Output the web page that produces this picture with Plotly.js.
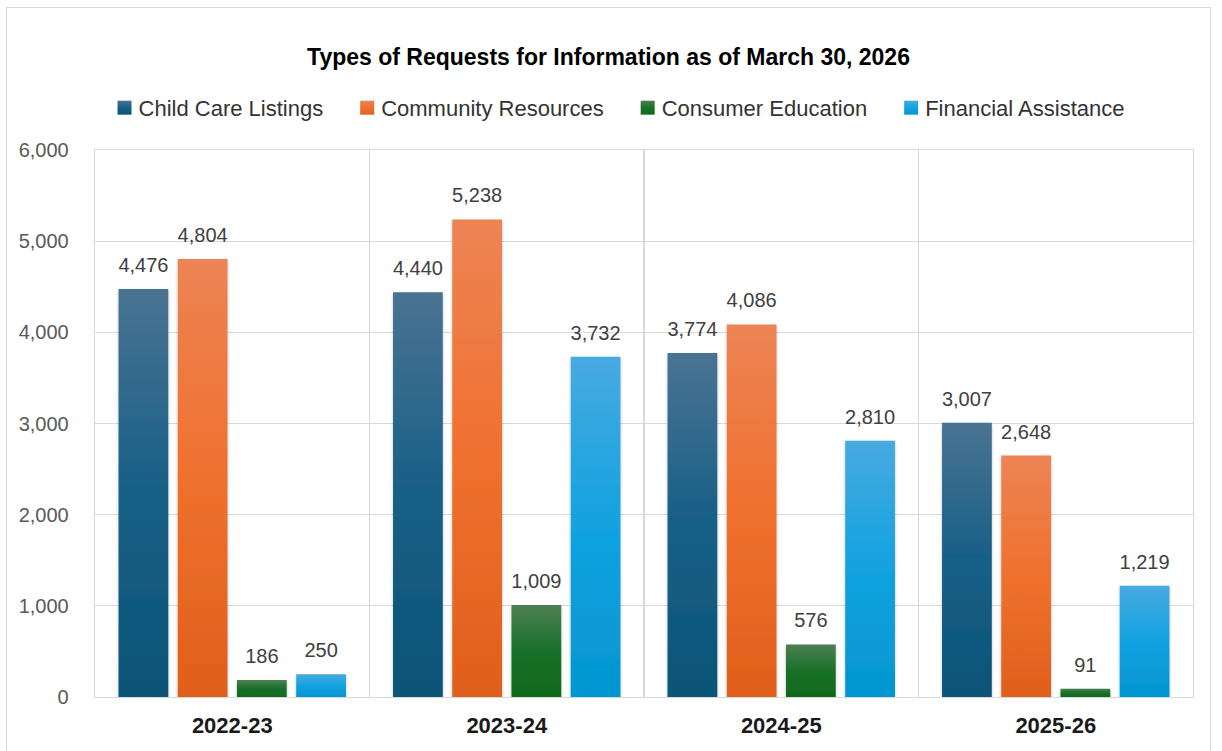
<!DOCTYPE html>
<html>
<head>
<meta charset="utf-8">
<script src="https://cdn.plot.ly/plotly-3.0.1.min.js"></script>
<style>
  html, body { margin: 0; padding: 0; background: #ffffff; overflow: hidden; }
  #frame { position: absolute; left: 6px; top: 7px; width: 1205px; height: 760px;
           border: 1px solid #d9d9d9; box-sizing: border-box; background: #fff; }
  #chart { width: 1203px; height: 758px; }
</style>
</head>
<body>
<div id="frame"><div id="chart"></div></div>
<script>
// ---- data ----
const years = ["2022-23", "2023-24", "2024-25", "2025-26"];
const childCareListings   = [4476, 4440, 3774, 3007];
const communityResources  = [4804, 5238, 4086, 2648];
const consumerEducation   = [186, 1009, 576, 91];
const financialAssistance = [250, 3732, 2810, 1219];
const seriesNames = ["Child Care Listings", "Community Resources", "Consumer Education", "Financial Assistance"];
const chartTitle = "Types of Requests for Information as of March 30, 2026";

// ---- styles ----
const baseColors = ["#14618a", "#ef6f2c", "#1a6f25", "#0aa0dc"];
const gradStops = [
  ["#4a7393", "#175f86", "#0c5477"],
  ["#ed8455", "#f0702e", "#e05f1b"],
  ["#4d8053", "#19702a", "#106a1c"],
  ["#48aae0", "#12a2e0", "#0396d1"]
];
const LABEL_LIFT = 10;
const LEGEND_EXTRA_GAP = 13;
const LEGEND_SHIFT = -33;

const seriesValues = [childCareListings, communityResources, consumerEducation, financialAssistance];
const traces = seriesValues.map((vals, i) => ({
  type: "bar",
  name: seriesNames[i],
  x: years,
  y: vals,
  marker: { color: baseColors[i], line: { width: 0 } },
  texttemplate: "%{y:,}",
  textposition: "outside",
  constraintext: "none",
  cliponaxis: false,
  textfont: { family: "Liberation Sans, Arial, sans-serif", size: 20, color: "#404040" },
  hoverinfo: "x+y+name"
}));

const layout = {
  width: 1203, height: 758,
  margin: { l: 88, r: 17, t: 142, b: 69 },
  paper_bgcolor: "#ffffff",
  plot_bgcolor: "#ffffff",
  title: {
    text: "<b>" + chartTitle + "</b>",
    font: { family: "Liberation Sans, Arial, sans-serif", size: 23, color: "#000000" },
    x: 0.5, xanchor: "center", xref: "container",
    y: 0.935, yanchor: "middle", yref: "container"
  },
  legend: {
    orientation: "h",
    x: 0.485, xanchor: "center",
    y: 1.077, yanchor: "middle",
    font: { family: "Liberation Sans, Arial, sans-serif", size: 22, color: "#333333" },
    itemwidth: 30,
    traceorder: "normal"
  },
  barmode: "group",
  bargap: 0.137,
  bargroupgap: 0.16,
  xaxis: {
    type: "category",
    tickson: "boundaries",
    showgrid: true,
    gridcolor: "#d9d9d9",
    gridwidth: 1.3,
    showline: true,
    linecolor: "#d9d9d9",
    linewidth: 1.3,
    mirror: true,
    ticks: "",
    ticklabelstandoff: 8,
    tickfont: { family: "Liberation Sans, Arial, sans-serif", size: 22, color: "#1a1a1a", weight: "bold" },
    fixedrange: true
  },
  yaxis: {
    range: [0, 6000],
    dtick: 1000,
    tickformat: ",",
    showgrid: true,
    gridcolor: "#d9d9d9",
    gridwidth: 1.3,
    zeroline: false,
    showline: true,
    linecolor: "#d9d9d9",
    linewidth: 1.3,
    mirror: true,
    ticks: "",
    ticklabelstandoff: 21,
    tickfont: { family: "Liberation Sans, Arial, sans-serif", size: 20, color: "#595959" },
    fixedrange: true
  },
  showlegend: true
};

function parseTranslate(tf) {
  const m = /translate\(\s*([-\d.e]+)[ ,]+([-\d.e]+)\s*\)/.exec(tf || "");
  return m ? [parseFloat(m[1]), parseFloat(m[2])] : [0, 0];
}

function applyStyling(gd) {
  const svg = gd.querySelector("svg.main-svg");
  if (!svg) return;
  const NS = "http://www.w3.org/2000/svg";
  let defs = document.getElementById("custom-grad-defs");
  if (!defs) {
    defs = document.createElementNS(NS, "defs");
    defs.setAttribute("id", "custom-grad-defs");
    gradStops.forEach((stops, i) => {
      const lg = document.createElementNS(NS, "linearGradient");
      lg.setAttribute("id", "bargrad" + i);
      lg.setAttribute("x1", "0"); lg.setAttribute("y1", "0");
      lg.setAttribute("x2", "0"); lg.setAttribute("y2", "1");
      [0, 0.5, 1].forEach((off, k) => {
        const s = document.createElementNS(NS, "stop");
        s.setAttribute("offset", off);
        s.setAttribute("stop-color", stops[k]);
        lg.appendChild(s);
      });
      defs.appendChild(lg);
    });
    const f = document.createElementNS(NS, "filter");
    f.setAttribute("id", "barshadow");
    f.setAttribute("x", "-20%"); f.setAttribute("y", "-5%");
    f.setAttribute("width", "140%"); f.setAttribute("height", "115%");
    const ds = document.createElementNS(NS, "feDropShadow");
    ds.setAttribute("dx", "0"); ds.setAttribute("dy", "1.5");
    ds.setAttribute("stdDeviation", "1.5");
    ds.setAttribute("flood-color", "#000");
    ds.setAttribute("flood-opacity", "0.25");
    f.appendChild(ds);
    defs.appendChild(f);
    svg.insertBefore(defs, svg.firstChild);
  }
  gd.querySelectorAll(".barlayer .trace").forEach((tr, i) => {
    tr.querySelectorAll(".point path").forEach(p => {
      p.style.fill = "url(#bargrad" + i + ")";
      p.setAttribute("filter", "url(#barshadow)");
    });
    tr.querySelectorAll(".point text").forEach(t => {
      const tf = t.getAttribute("transform") || "";
      t.setAttribute("transform", "translate(0,-" + LABEL_LIFT + ") " + tf);
    });
  });
  gd.querySelectorAll(".legend .scrollbox, .legend [clip-path]").forEach(el => {
    el.removeAttribute("clip-path");
  });
  gd.querySelectorAll(".legend .traces").forEach((tr, i) => {
    tr.querySelectorAll(".legendpoints path").forEach(p => {
      p.style.fill = "url(#bargrad" + i + ")";
      p.setAttribute("d", "M13,7H-1V-7H13Z");
    });
    const [tx, ty] = parseTranslate(tr.getAttribute("transform"));
    tr.setAttribute("transform", "translate(" + (tx + i * LEGEND_EXTRA_GAP + LEGEND_SHIFT) + "," + ty + ")");
  });
}

Plotly.newPlot("chart", traces, layout, { displayModeBar: false, staticPlot: true })
  .then(gd => applyStyling(gd));
</script>
</body>
</html>
